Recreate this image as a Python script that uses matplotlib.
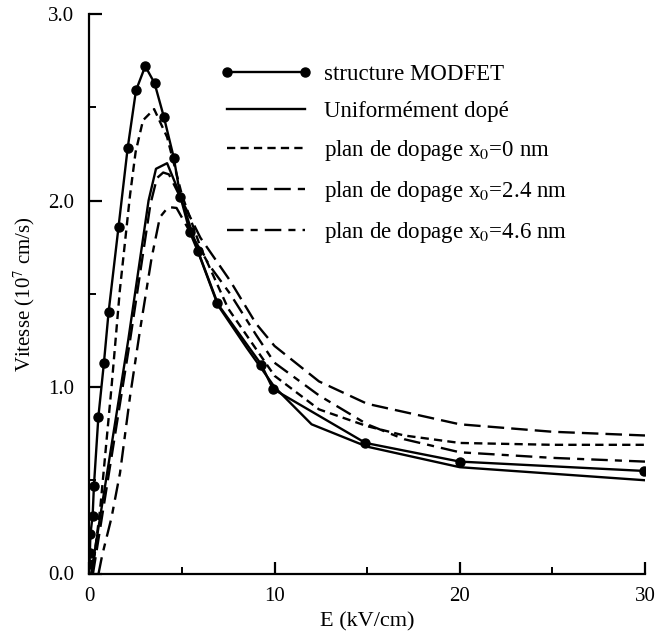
import matplotlib
matplotlib.use("Agg")
import matplotlib.pyplot as plt
from matplotlib.ticker import FixedLocator, FormatStrFormatter

plt.rcParams["font.family"] = ["Liberation Serif", "DejaVu Serif"]
plt.rcParams["mathtext.fontset"] = "stix"

# Drift velocity (1e7 cm/s) versus electric field (kV/cm)
e_modfet = [0.0, 0.03, 0.06, 0.18, 0.25, 0.49, 0.79, 1.04, 1.58, 2.07, 2.52, 3.02,
            3.52, 4.02, 4.56, 4.92, 5.43, 5.85, 6.9, 9.29, 9.91, 14.91, 20.0, 29.94]
v_modfet = [0.05, 0.11, 0.21, 0.31, 0.47, 0.84, 1.13, 1.40, 1.86, 2.28, 2.59, 2.72,
            2.63, 2.45, 2.23, 2.02, 1.83, 1.73, 1.45, 1.12, 0.99, 0.70, 0.60, 0.55]

e_uniform = [0.1, 0.5, 2.1, 3.2, 3.6, 4.2, 4.9, 5.9, 7.0, 8.5, 10.0, 12.0, 15.0, 20.0, 30.0]
v_uniform = [0.0, 0.25, 1.25, 2.0, 2.17, 2.2, 2.03, 1.72, 1.43, 1.21, 1.0, 0.80, 0.68, 0.57, 0.50]

e_x0 = [0.15, 0.3, 0.6, 1.2, 1.65, 2.2, 2.5, 2.9, 3.5, 4.2, 5.0, 6.0, 7.5, 10.0,
        12.4, 15.0, 17.0, 20.0, 25.0, 30.0]
v_x0 = [0.0, 0.11, 0.36, 1.0, 1.52, 2.03, 2.26, 2.43, 2.49, 2.34, 2.03, 1.75, 1.42, 1.06,
        0.88, 0.79, 0.74, 0.70, 0.69, 0.69]

e_x24 = [0.2, 0.6, 2.2, 3.3, 3.65, 3.99, 4.3, 5.0, 6.0, 7.6, 9.0, 10.0, 12.4, 15.0,
         20.0, 25.0, 30.0]
v_x24 = [0.0, 0.25, 1.25, 1.98, 2.12, 2.15, 2.14, 2.0, 1.80, 1.57, 1.34, 1.22, 1.03, 0.91,
         0.80, 0.76, 0.74]

e_x46 = [0.5, 0.7, 1.2, 1.66, 2.2, 2.73, 3.36, 3.81, 4.26, 4.71, 5.5, 6.5, 7.6, 9.0,
         10.0, 12.4, 15.0, 17.0, 20.0, 25.0, 30.0]
v_x46 = [0.0, 0.1, 0.3, 0.54, 0.95, 1.30, 1.69, 1.91, 1.965, 1.96, 1.82, 1.65, 1.50, 1.28,
         1.13, 0.955, 0.80, 0.72, 0.65, 0.62, 0.60]

x_ticks = [0, 10, 20, 30]
x_minor = [5, 15, 25]
y_ticks = [0.0, 1.0, 2.0, 3.0]
y_minor = [0.5, 1.5, 2.5]

labels = ["structure MODFET", "Uniformément dopé",
          "plan de dopage x$_0$=0 nm", "plan de dopage x$_0$=2.4 nm",
          "plan de dopage x$_0$=4.6 nm"]

fig = plt.figure(figsize=(6.58, 6.4), dpi=100)
ax = fig.add_axes([89.3 / 658, 1 - 573.5 / 640, (645 - 89.3) / 658, (573.5 - 14) / 640])

lw = 1.7
ax.plot(e_modfet, v_modfet, "-", color="black", lw=lw, marker="o", ms=6.5, label=labels[0])
ax.plot(e_uniform, v_uniform, "-", color="black", lw=lw, label=labels[1])
ax.plot(e_x0, v_x0, color="black", lw=lw, dashes=(3.5, 2.2), label=labels[2])
ax.plot(e_x24, v_x24, color="black", lw=lw, dashes=(7, 3), label=labels[3])
ax.plot(e_x46, v_x46, color="black", lw=lw, dashes=(7, 3, 3, 3), label=labels[4])

ax.set_xlim(0, 30)
ax.set_ylim(0, 3.0)
ax.spines["top"].set_visible(False)
ax.spines["right"].set_visible(False)
for s in ("left", "bottom"):
    ax.spines[s].set_linewidth(1.6)

ax.xaxis.set_major_locator(FixedLocator(x_ticks))
ax.xaxis.set_minor_locator(FixedLocator(x_minor))
ax.yaxis.set_major_locator(FixedLocator(y_ticks))
ax.yaxis.set_minor_locator(FixedLocator(y_minor))
ax.xaxis.set_major_formatter(FormatStrFormatter("%d"))
ax.yaxis.set_major_formatter(FormatStrFormatter("%.1f"))
ax.tick_params(which="major", direction="in", length=9, width=1.6, labelsize=15, pad=11)
ax.tick_params(axis="x", which="major", pad=10)
ax.tick_params(which="minor", direction="in", length=5, width=1.4)

ax.set_xlabel("E (kV/cm)", fontsize=16, labelpad=4)
ax.set_ylabel("Vitesse (10$^7$ cm/s)", fontsize=15, labelpad=8)

ax.legend(loc="upper left", bbox_to_anchor=(220 / 658, 1 - 64 / 640),
          bbox_transform=fig.transFigure, frameon=False, fontsize=16.5,
          handlelength=4.0, handletextpad=0.55, labelspacing=0.7,
          borderpad=0, borderaxespad=0, numpoints=2)

fig.savefig("out.png", dpi=100)
